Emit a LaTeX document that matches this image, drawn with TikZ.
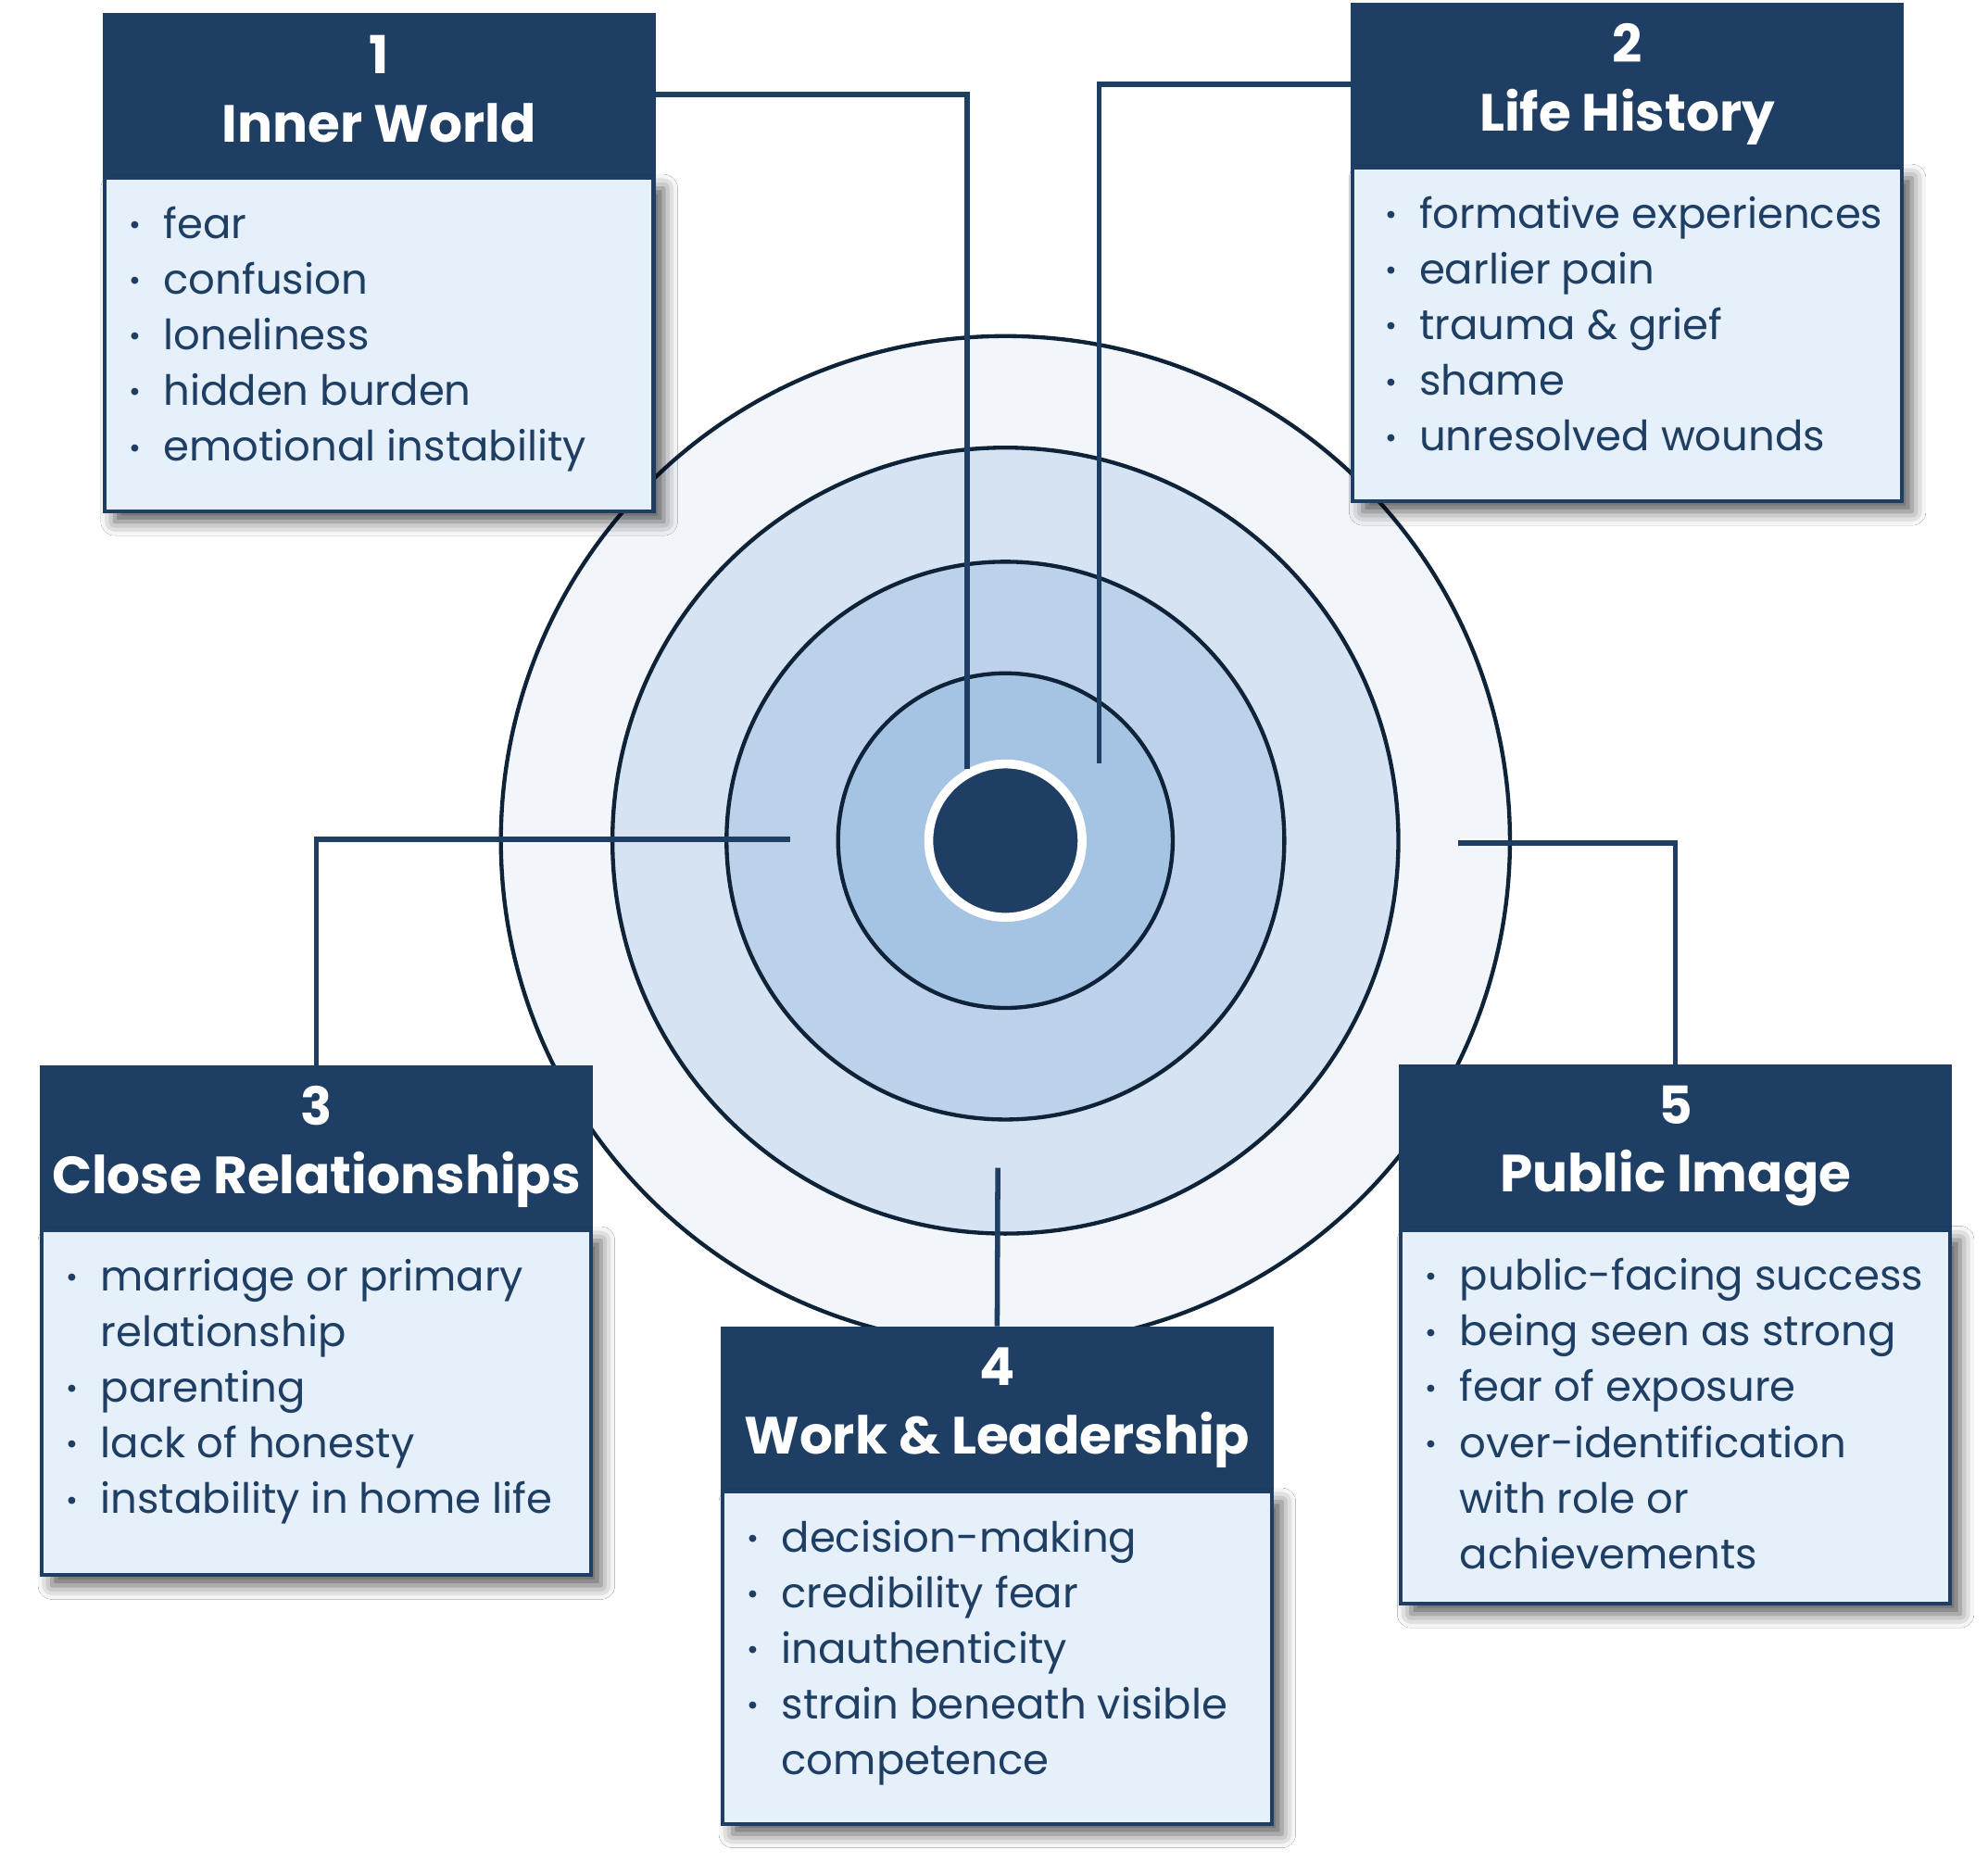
\documentclass[tikz,border=0pt]{standalone}
\usepackage{fontspec}
\setmainfont{Poppins}
\usetikzlibrary{positioning,shadows.blur}

\definecolor{navy}{HTML}{1F3E63}
\definecolor{ringline}{HTML}{0E2238}
\definecolor{ringA}{HTML}{F2F6FB}
\definecolor{ringB}{HTML}{D5E3F2}
\definecolor{ringC}{HTML}{BCD2EA}
\definecolor{ringD}{HTML}{A5C3E2}
\definecolor{bodyc}{HTML}{E5F0FB}

\newcommand\itm{\makebox[0.57cm][l]{\hspace*{0.03cm}{\fontsize{13}{13}\selectfont\raisebox{0.12em}{\textbullet}}}}
\newcommand\cnt{\hspace*{0.57cm}}
\newcommand\hdepth{\rule[-0.17cm]{0pt}{0pt}}

\begin{document}
\begin{tikzpicture}[x=0.02cm,y=-0.02cm,
  head/.style={fill=navy,draw=navy,line width=1.7pt,text=white,align=center,
    font=\bfseries\fontsize{23.5}{30.6}\selectfont,
    minimum width=8.66cm,minimum height=2.52cm,inner sep=0},
  body/.style={fill=bodyc,draw=navy,line width=1.7pt,minimum width=8.66cm,inner sep=0,
    blur shadow={shadow xshift=0.16cm,shadow yshift=-0.16cm,shadow blur radius=0.22cm,shadow opacity=65}},
  items/.style={anchor=north west,inner sep=0,text=navy,align=left,
    font=\fontsize{18.7}{25}\selectfont},
  ring/.style={draw=ringline,line width=1.8pt},
  link/.style={draw=navy,line width=2.3pt}]
  \fill[white] (0,0) rectangle (1568,1469);
  \useasboundingbox (0,0) rectangle (1568,1469);

  % target rings
  \filldraw[ring,fill=ringA] (793,663) circle (7.96cm);
  \filldraw[ring,fill=ringB] (793,663) circle (6.20cm);
  \filldraw[ring,fill=ringC] (793,663) circle (4.40cm);
  \filldraw[ring,fill=ringD] (793,663) circle (2.64cm);
  \node[circle,fill=navy,draw=white,line width=4pt,minimum size=2.42cm,inner sep=0] (core) at (793,663) {};

  % boxes
  \node[head] (h1) at (299,74.5) {1\\Inner World\hdepth};
  \node[body,minimum height=5.26cm,below=0pt of h1] (b1) {};
  \node[items,below right=0.36cm and 0.38cm of b1.north west] (t1)
    {\strut\itm fear\\\itm confusion\\\itm loneliness\\\itm hidden burden\\\itm emotional instability};

  \node[head] (h2) at (1283.5,66.5) {2\\Life History\hdepth};
  \node[body,minimum height=5.26cm,below=0pt of h2] (b2) {};
  \node[items,below right=0.36cm and 0.50cm of b2.north west] (t2)
    {\strut\itm formative experiences\\\itm earlier pain\\\itm trauma \& grief\\\itm shame\\\itm unresolved wounds};

  \node[head] (h3) at (249.5,904.5) {3\\Close Relationships\hdepth};
  \node[body,minimum height=5.44cm,below=0pt of h3] (b3) {};
  \node[items,below right=0.36cm and 0.38cm of b3.north west] (t3)
    {\strut\itm marriage or primary\\\cnt relationship\\\itm parenting\\\itm lack of honesty\\\itm instability in home life};

  \node[head] (h4) at (786.5,1110.5) {4\\Work \& Leadership\hdepth};
  \node[body,minimum height=5.24cm,below=0pt of h4] (b4) {};
  \node[items,below right=0.36cm and 0.38cm of b4.north west] (t4)
    {\strut\itm decision-making\\\itm credibility fear\\\itm inauthenticity\\\itm strain beneath visible\\\cnt competence};

  \node[head] (h5) at (1321.5,904) {5\\Public Image\hdepth};
  \node[body,minimum height=5.90cm,below=0pt of h5] (b5) {};
  \node[items,below right=0.36cm and 0.38cm of b5.north west] (t5)
    {\strut\itm public-facing success\\\itm being seen as strong\\\itm fear of exposure\\\itm over-identification\\\cnt with role or\\\cnt achievements};

  % connectors
  \coordinate (e2) at (867,602);
  \coordinate (e3) at (623,662);
  \coordinate (e4) at (787,921);
  \coordinate (e5) at (1150,665);
  \draw[link] (h1.east) -| (core.118);
  \draw[link] (h2.west) -| (e2);
  \draw[link] (h3.north) |- (e3);
  \draw[link] (h4.north) -- (e4);
  \draw[link] (h5.north) |- (e5);
\end{tikzpicture}
\end{document}
